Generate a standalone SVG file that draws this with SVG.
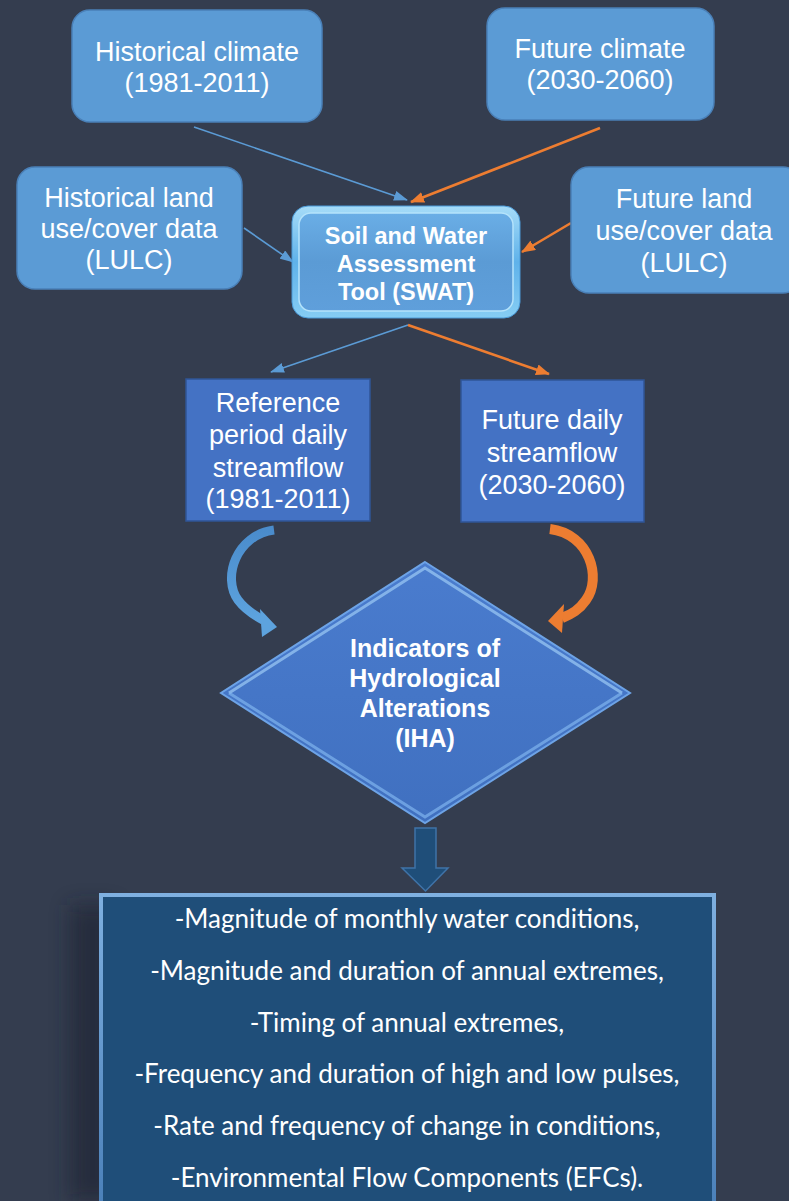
<svg xmlns="http://www.w3.org/2000/svg" width="789" height="1201" viewBox="0 0 789 1201">
<defs>
<style>
.lb{fill:#5b9bd5;stroke:#4a80b8;stroke-width:1.5}
.mb{fill:#4472c4;stroke:#2f5597;stroke-width:1.5}
.t{font-family:"Liberation Sans",Arial,sans-serif;fill:#ffffff;text-anchor:middle}
.n{font-size:27px}
.b{font-size:23.5px;font-weight:bold}
.d{font-size:25px;font-weight:bold}
.c{font-family:Lato,"Open Sans",sans-serif;font-size:26px;fill:#ffffff;text-anchor:middle}
.cb{fill:none;stroke:#5b9bd5;stroke-width:1.6}
.co{fill:none;stroke:#ed7d31;stroke-width:2.6}
</style>
<marker id="ab" markerUnits="userSpaceOnUse" markerWidth="14" markerHeight="10" refX="13" refY="5" orient="auto"><path d="M0,0 L14,5 L0,10 z" fill="#5b9bd5"/></marker>
<marker id="ao" markerUnits="userSpaceOnUse" markerWidth="14" markerHeight="11" refX="13" refY="5.5" orient="auto"><path d="M0,0 L14,5.5 L0,11 z" fill="#ed7d31"/></marker>
<linearGradient id="swg" x1="0" y1="0" x2="0" y2="1"><stop offset="0" stop-color="#a6dcf8"/><stop offset="0.5" stop-color="#5fb2ea"/><stop offset="1" stop-color="#86cdf4"/></linearGradient>
<linearGradient id="swi" x1="0" y1="0" x2="0" y2="1"><stop offset="0" stop-color="#6aaee6"/><stop offset="0.5" stop-color="#5b9bd5"/><stop offset="1" stop-color="#5f9fdb"/></linearGradient>
<linearGradient id="dg" x1="0" y1="0" x2="0" y2="1"><stop offset="0" stop-color="#4a7cce"/><stop offset="1" stop-color="#4070c0"/></linearGradient>
<linearGradient id="cbg" x1="0" y1="0" x2="0" y2="1"><stop offset="0" stop-color="#4a8ccc"/><stop offset="1" stop-color="#5da3de"/></linearGradient>
<linearGradient id="bbg" x1="0" y1="0" x2="0" y2="1"><stop offset="0" stop-color="#7fb0e0"/><stop offset="1" stop-color="#4a7fb8"/></linearGradient>
<filter id="sh" x="-50%" y="-20%" width="200%" height="140%"><feGaussianBlur stdDeviation="10"/></filter>
</defs>
<rect width="789" height="1201" fill="#343d4f"/>

<g id="connectors">
<line class="cb" x1="194" y1="127" x2="407" y2="200" marker-end="url(#ab)"/>
<line class="co" x1="600" y1="128" x2="411" y2="202" marker-end="url(#ao)"/>
<line class="cb" x1="244" y1="228" x2="293" y2="262" marker-end="url(#ab)"/>
<line class="co" x1="571" y1="223" x2="522" y2="252" marker-end="url(#ao)"/>
<line class="cb" x1="408" y1="325" x2="271" y2="372" marker-end="url(#ab)"/>
<line class="co" x1="408" y1="325" x2="549" y2="374" marker-end="url(#ao)"/>
<path d="M274,530 C236,535 222,578 238,600 C244,608 252,614 263,620" fill="none" stroke="url(#cbg)" stroke-width="9"/>
<polygon points="260,609 277,627 262,637" fill="#5da3de"/>
<path d="M550,529 C590,534 602,578 586,600 C579,610 572,614 562,618" fill="none" stroke="#ed7d31" stroke-width="10"/>
<polygon points="564,604 548,621 562,633" fill="#ed7d31"/>
<g id="down-arrow">
<path d="M415,828 H436 V868 H448 L425.5,891 L402,868 H415 Z" fill="#1f4e79" stroke="#3f73a8" stroke-width="1.5"/>
</g>
</g>

<g id="hist-climate">
<rect class="lb" x="72" y="10" width="250" height="112" rx="18"/>
<text class="t n" x="197" y="61">Historical climate</text>
<text class="t n" x="197" y="92">(1981-2011)</text>
</g>
<g id="future-climate">
<rect class="lb" x="487" y="8" width="227" height="112" rx="18"/>
<text class="t n" x="600" y="58">Future climate</text>
<text class="t n" x="600" y="89">(2030-2060)</text>
</g>
<g id="hist-lulc">
<rect class="lb" x="17" y="167" width="225" height="122" rx="18"/>
<text class="t n" x="129" y="207">Historical land</text>
<text class="t n" x="129" y="238">use/cover data</text>
<text class="t n" x="129" y="269">(LULC)</text>
</g>
<g id="future-lulc">
<rect class="lb" x="571" y="167" width="230" height="126" rx="18"/>
<text class="t n" x="684" y="208">Future land</text>
<text class="t n" x="684" y="240">use/cover data</text>
<text class="t n" x="684" y="272">(LULC)</text>
</g>
<g id="swat">
<rect x="292" y="206" width="228" height="112" rx="16" fill="url(#swg)" stroke="#4a9ad8" stroke-width="1"/>
<rect x="299" y="213" width="214" height="98" rx="12" fill="url(#swi)" stroke="#b5e3fb" stroke-width="1.5"/>
<text class="t b" x="406" y="244">Soil and Water</text>
<text class="t b" x="406" y="272">Assessment</text>
<text class="t b" x="406" y="300">Tool (SWAT)</text>
</g>
<g id="ref-flow">
<rect class="mb" x="186" y="379" width="184" height="142"/>
<text class="t n" x="278" y="412">Reference</text>
<text class="t n" x="278" y="444">period daily</text>
<text class="t n" x="278" y="477">streamflow</text>
<text class="t n" x="278" y="508">(1981-2011)</text>
</g>
<g id="future-flow">
<rect class="mb" x="461" y="380" width="183" height="142"/>
<text class="t n" x="552" y="429">Future daily</text>
<text class="t n" x="552" y="462">streamflow</text>
<text class="t n" x="552" y="494">(2030-2060)</text>
</g>
<g id="iha">
<polygon points="425,562 630,693 425,823 221,693" fill="url(#dg)" stroke="#6da3e6" stroke-width="2"/>
<polyline points="229,693 425,568 622,693" fill="none" stroke="#9ccaf5" stroke-width="3" opacity="0.7"/>
<polyline points="229,693 425,817 622,693" fill="none" stroke="#7fb4ee" stroke-width="3" opacity="0.7"/>
<text class="t d" x="425" y="657">Indicators of</text>
<text class="t d" x="425" y="687">Hydrological</text>
<text class="t d" x="425" y="717">Alterations</text>
<text class="t d" x="425" y="747">(IHA)</text>
</g>
<g id="outcomes">
<rect x="70" y="905" width="45" height="296" fill="#1a2330" opacity="0.6" filter="url(#sh)"/>
<rect x="99" y="893" width="617" height="320" fill="url(#bbg)"/>
<rect x="103" y="897" width="609" height="320" fill="#1f4e79"/>
<text class="c" x="407" y="928">-Magnitude of monthly water conditions,</text>
<text class="c" x="407" y="980">-Magnitude and duration of annual extremes,</text>
<text class="c" x="407" y="1032">-Timing of annual extremes,</text>
<text class="c" x="407" y="1083">-Frequency and duration of high and low pulses,</text>
<text class="c" x="407" y="1135">-Rate and frequency of change in conditions,</text>
<text class="c" x="407" y="1187">-Environmental Flow Components (EFCs).</text>
</g>
</svg>
